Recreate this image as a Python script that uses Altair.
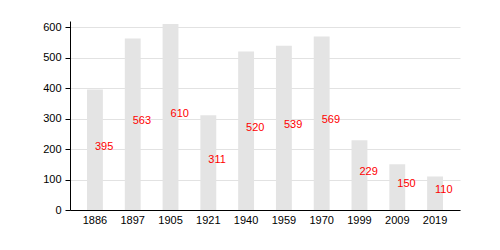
import altair as alt
import pandas as pd

years = ["1886", "1897", "1905", "1921", "1940", "1959", "1970", "1999", "2009", "2019"]
values = [395, 563, 610, 311, 520, 539, 569, 229, 150, 110]
ticks = [0, 100, 200, 300, 400, 500, 600]

df = pd.DataFrame({"year": years, "value": values})
df["half"] = df["value"] / 2

xaxis = alt.Axis(labelAngle=0, ticks=False, domainColor="black", labelColor="black",
                 labelFont="Liberation Sans", labelFontSize=11, labelPadding=4, grid=False)
yaxis = alt.Axis(values=ticks, domainColor="black", labelOverlap=False, labelFlush=False,
                 tickColor="black", tickSize=5, labelColor="black",
                 labelFont="Liberation Sans", labelFontSize=11, labelPadding=4,
                 gridColor="#e2e2e2")
xscale = alt.Scale(paddingInner=0.58, paddingOuter=0.45)
yscale = alt.Scale(domain=[0, 620], nice=False)

bars = alt.Chart(df).mark_bar(color="#e4e4e4").encode(
    x=alt.X("year:N", sort=years, title=None, scale=xscale, axis=xaxis),
    y=alt.Y("value:Q", title=None, scale=yscale, axis=yaxis),
)

labels = alt.Chart(df).mark_text(color="#ff0000", align="left", baseline="middle",
                                 font="Liberation Sans", fontSize=11, dy=-3).encode(
    x=alt.X("year:N", sort=years, title=None, scale=xscale, axis=xaxis),
    y=alt.Y("half:Q", title=None, scale=yscale, axis=yaxis),
    text="value:Q",
)

chart = (bars + labels).properties(
    width=390, height=189,
    autosize=alt.AutoSizeParams(type="none"),
    padding={"left": 62, "top": 13, "right": 30, "bottom": 24},
).configure_view(stroke=None)

chart.save("out.html", embed_options={"renderer": "svg", "actions": False})
